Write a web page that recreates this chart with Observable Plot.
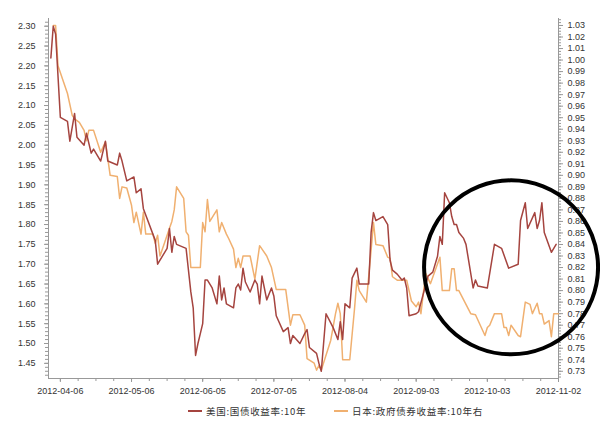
<!DOCTYPE html>
<html><head><meta charset="utf-8">
<script src="https://cdn.jsdelivr.net/npm/d3@7"></script>
<script src="https://cdn.jsdelivr.net/npm/@observablehq/plot@0.6"></script>
<style>
body{margin:0;background:#fff;}
#wrap{position:relative;width:600px;height:422px;}
#legend{position:absolute;left:0;top:400px;width:600px;height:22px;font-family:"Noto Sans CJK SC","Liberation Sans",sans-serif;font-size:9.5px;letter-spacing:0.7px;color:#333;}
.item{position:absolute;top:4px;display:flex;align-items:center;white-space:nowrap;}
.sw{width:14px;height:2px;margin-right:4px;}
</style></head><body>
<div id="wrap"><div id="chart"></div><div id="legend"></div></div>
<script>
const seriesNames = ["美国:国债收益率:10年", "日本:政府债券收益率:10年右"];
const seriesColors = ["#a5443f", "#f0b070"];

const usDates = ["2012-04-02","2012-04-03","2012-04-04","2012-04-06","2012-04-09","2012-04-10","2012-04-12","2012-04-13","2012-04-16","2012-04-17","2012-04-19","2012-04-20","2012-04-23","2012-04-25","2012-04-26","2012-04-30","2012-05-01","2012-05-02","2012-05-04","2012-05-07","2012-05-08","2012-05-10","2012-05-11","2012-05-16","2012-05-17","2012-05-21","2012-05-22","2012-05-23","2012-05-24","2012-05-25","2012-05-29","2012-05-30","2012-05-31","2012-06-01","2012-06-02","2012-06-03","2012-06-04","2012-06-05","2012-06-06","2012-06-07","2012-06-09","2012-06-11","2012-06-12","2012-06-13","2012-06-14","2012-06-15","2012-06-18","2012-06-19","2012-06-20","2012-06-21","2012-06-22","2012-06-23","2012-06-25","2012-06-27","2012-06-28","2012-06-29","2012-06-30","2012-07-01","2012-07-02","2012-07-04","2012-07-05","2012-07-06","2012-07-09","2012-07-11","2012-07-12","2012-07-13","2012-07-16","2012-07-18","2012-07-19","2012-07-20","2012-07-23","2012-07-24","2012-07-25","2012-07-27","2012-07-30","2012-08-01","2012-08-02","2012-08-03","2012-08-04","2012-08-06","2012-08-07","2012-08-09","2012-08-10","2012-08-14","2012-08-15","2012-08-16","2012-08-17","2012-08-20","2012-08-22","2012-08-23","2012-08-24","2012-08-26","2012-08-28","2012-08-29","2012-08-30","2012-08-31","2012-09-03","2012-09-04","2012-09-08","2012-09-10","2012-09-12","2012-09-13","2012-09-14","2012-09-15","2012-09-17","2012-09-18","2012-09-19","2012-09-20","2012-09-21","2012-09-23","2012-09-24","2012-09-27","2012-09-28","2012-09-29","2012-10-03","2012-10-06","2012-10-09","2012-10-12","2012-10-16","2012-10-17","2012-10-19","2012-10-20","2012-10-23","2012-10-24","2012-10-25","2012-10-26","2012-10-27","2012-10-30","2012-11-01"];
const usValues = [2.22,2.30,2.28,2.07,2.06,2.01,2.08,2.02,2.00,2.03,1.98,1.99,1.96,2.01,1.96,1.95,1.98,1.96,1.91,1.92,1.88,1.89,1.84,1.76,1.70,1.74,1.79,1.73,1.77,1.75,1.74,1.685,1.63,1.59,1.47,1.50,1.525,1.55,1.66,1.66,1.64,1.60,1.67,1.61,1.64,1.60,1.59,1.64,1.65,1.635,1.69,1.655,1.63,1.66,1.65,1.60,1.67,1.64,1.61,1.64,1.62,1.57,1.53,1.54,1.50,1.52,1.50,1.525,1.535,1.49,1.475,1.45,1.43,1.575,1.54,1.51,1.555,1.51,1.60,1.59,1.665,1.69,1.65,1.65,1.78,1.83,1.81,1.82,1.80,1.71,1.685,1.675,1.66,1.665,1.64,1.57,1.575,1.58,1.67,1.68,1.72,1.77,1.75,1.88,1.855,1.82,1.80,1.80,1.78,1.765,1.75,1.64,1.66,1.645,1.64,1.75,1.74,1.69,1.70,1.81,1.855,1.79,1.83,1.79,1.81,1.855,1.78,1.73,1.75];

const jpDates = ["2012-04-03","2012-04-04","2012-04-05","2012-04-09","2012-04-11","2012-04-12","2012-04-14","2012-04-16","2012-04-17","2012-04-18","2012-04-20","2012-04-23","2012-04-25","2012-04-27","2012-04-30","2012-05-01","2012-05-02","2012-05-04","2012-05-06","2012-05-07","2012-05-08","2012-05-10","2012-05-11","2012-05-12","2012-05-15","2012-05-16","2012-05-17","2012-05-18","2012-05-20","2012-05-22","2012-05-23","2012-05-24","2012-05-25","2012-05-28","2012-05-29","2012-05-30","2012-05-31","2012-06-04","2012-06-05","2012-06-06","2012-06-07","2012-06-08","2012-06-11","2012-06-12","2012-06-13","2012-06-15","2012-06-16","2012-06-18","2012-06-19","2012-06-20","2012-06-21","2012-06-22","2012-06-25","2012-06-27","2012-06-29","2012-07-02","2012-07-04","2012-07-06","2012-07-10","2012-07-12","2012-07-13","2012-07-16","2012-07-18","2012-07-19","2012-07-22","2012-07-23","2012-07-24","2012-07-25","2012-07-29","2012-07-31","2012-08-01","2012-08-02","2012-08-03","2012-08-06","2012-08-08","2012-08-09","2012-08-10","2012-08-13","2012-08-15","2012-08-16","2012-08-17","2012-08-20","2012-08-22","2012-08-23","2012-08-24","2012-08-26","2012-08-30","2012-09-01","2012-09-03","2012-09-04","2012-09-05","2012-09-07","2012-09-09","2012-09-13","2012-09-14","2012-09-17","2012-09-18","2012-09-19","2012-09-20","2012-09-21","2012-09-26","2012-09-28","2012-10-02","2012-10-03","2012-10-04","2012-10-06","2012-10-09","2012-10-10","2012-10-11","2012-10-12","2012-10-13","2012-10-16","2012-10-17","2012-10-19","2012-10-21","2012-10-22","2012-10-24","2012-10-25","2012-10-26","2012-10-27","2012-10-29","2012-10-30","2012-10-31","2012-11-02"];
const jpValues = [1.03,1.03,0.995,0.971,0.952,0.949,0.946,0.939,0.930,0.939,0.939,0.920,0.929,0.900,0.899,0.880,0.890,0.889,0.874,0.859,0.868,0.849,0.868,0.849,0.849,0.841,0.848,0.830,0.842,0.854,0.860,0.870,0.890,0.880,0.851,0.848,0.820,0.820,0.859,0.851,0.879,0.860,0.870,0.851,0.859,0.849,0.845,0.836,0.820,0.828,0.820,0.830,0.830,0.810,0.839,0.830,0.820,0.801,0.801,0.770,0.779,0.779,0.770,0.741,0.737,0.731,0.735,0.731,0.757,0.780,0.789,0.780,0.740,0.740,0.784,0.809,0.800,0.790,0.835,0.859,0.840,0.839,0.829,0.828,0.812,0.809,0.809,0.791,0.786,0.790,0.780,0.815,0.806,0.829,0.800,0.800,0.819,0.819,0.800,0.800,0.780,0.779,0.761,0.768,0.770,0.780,0.780,0.768,0.768,0.761,0.770,0.761,0.760,0.790,0.788,0.780,0.789,0.780,0.780,0.771,0.774,0.760,0.780,0.780];

const xTickLabels = ["2012-04-06","2012-05-06","2012-06-05","2012-07-05","2012-08-04","2012-09-03","2012-10-03","2012-11-02"];
const leftTicks = [1.45,1.50,1.55,1.60,1.65,1.70,1.75,1.80,1.85,1.90,1.95,2.00,2.05,2.10,2.15,2.20,2.25,2.30];
const rightTicks = [0.73,0.74,0.75,0.76,0.77,0.78,0.79,0.80,0.81,0.82,0.83,0.84,0.85,0.86,0.87,0.88,0.89,0.90,0.91,0.92,0.93,0.94,0.95,0.96,0.97,0.98,0.99,1.00,1.01,1.02,1.03];
const highlight = [{date: "2012-10-13", value: 1.692}];

// right axis (Japan) mapped onto left axis units
const rLo = 0.73, rHi = 1.03, lLo = 1.43, lHi = 2.3018;
const toLeft = r => lLo + (r - rLo) * (lHi - lLo) / (rHi - rLo);
const fromLeft = l => rLo + (l - lLo) * (rHi - rLo) / (lHi - lLo);

const parse = d3.utcParse("%Y-%m-%d");
const us = usDates.map((d, i) => ({date: parse(d), value: usValues[i]}));
const jp = jpDates.map((d, i) => ({date: parse(d), value: toLeft(jpValues[i])}));
const xTicks = xTickLabels.map(parse);
const xDomain = [parse("2012-04-01"), parse("2012-11-02")];
const yDomain = [1.4118, 2.3194];

const day = 864e5;
const xMinor = d3.range(+xTicks[0] - 7.5 * day, +xDomain[1] + 1, 7.5 * day).map(t => new Date(t))
  .filter(d => d >= xDomain[0] && d <= xDomain[1]);
const leftMinor = d3.range(141, 232).map(v => v / 100).filter(v => v >= yDomain[0] && v <= yDomain[1]);
const rightMinor = d3.range(290, 415).map(v => v / 400).filter(v => v >= 0.7245 && v <= 1.036).map(toLeft);

const axisColor = "#999";
const chart = Plot.plot({
  width: 600, height: 400,
  marginLeft: 48, marginRight: 42, marginTop: 18, marginBottom: 22,
  style: {fontFamily: "Liberation Sans, Arial, sans-serif", fontSize: "9px", color: "#333", background: "#fff"},
  x: {type: "utc", domain: xDomain, label: null},
  y: {domain: yDomain, label: null},
  marks: [
    Plot.ruleX([xDomain[0]], {stroke: axisColor}),
    Plot.ruleX([xDomain[1]], {stroke: axisColor}),
    Plot.ruleY([yDomain[0]], {stroke: axisColor}),
    Plot.axisY(leftMinor, {anchor: "left", tickSize: 3, tickFormat: () => "", stroke: axisColor, label: null}),
    Plot.axisY(leftTicks, {anchor: "left", tickSize: 4, tickPadding: 9, tickFormat: d3.format(".2f"), stroke: axisColor, fill: "#333", label: null}),
    Plot.axisY(rightMinor, {anchor: "right", tickSize: 2, tickFormat: () => "", stroke: axisColor, label: null}),
    Plot.axisY(rightTicks.map(toLeft), {anchor: "right", tickSize: 4, tickPadding: 5, tickFormat: v => fromLeft(v).toFixed(2), stroke: axisColor, fill: "#333", label: null}),
    Plot.axisX(xMinor, {tickSize: 3, tickFormat: () => "", stroke: axisColor, label: null}),
    Plot.axisX(xTicks, {tickSize: 4, tickPadding: 5, tickFormat: d3.utcFormat("%Y-%m-%d"), stroke: axisColor, fill: "#333", label: null}),
    Plot.line(jp, {x: "date", y: "value", stroke: seriesColors[1], strokeWidth: 1.5}),
    Plot.line(us, {x: "date", y: "value", stroke: seriesColors[0], strokeWidth: 1.5}),
    Plot.dot(highlight, {x: d => parse(d.date), y: "value", r: 87, stroke: "#000", strokeWidth: 4, fill: "none"})
  ]
});
document.getElementById("chart").appendChild(chart);

const legend = document.getElementById("legend");
const lx = [188, 334];
seriesNames.forEach((name, i) => {
  const it = document.createElement("div");
  it.className = "item";
  it.style.left = lx[i] + "px";
  it.innerHTML = `<span class="sw" style="background:${seriesColors[i]}"></span><span>${name}</span>`;
  legend.appendChild(it);
});
</script>
</body></html>
